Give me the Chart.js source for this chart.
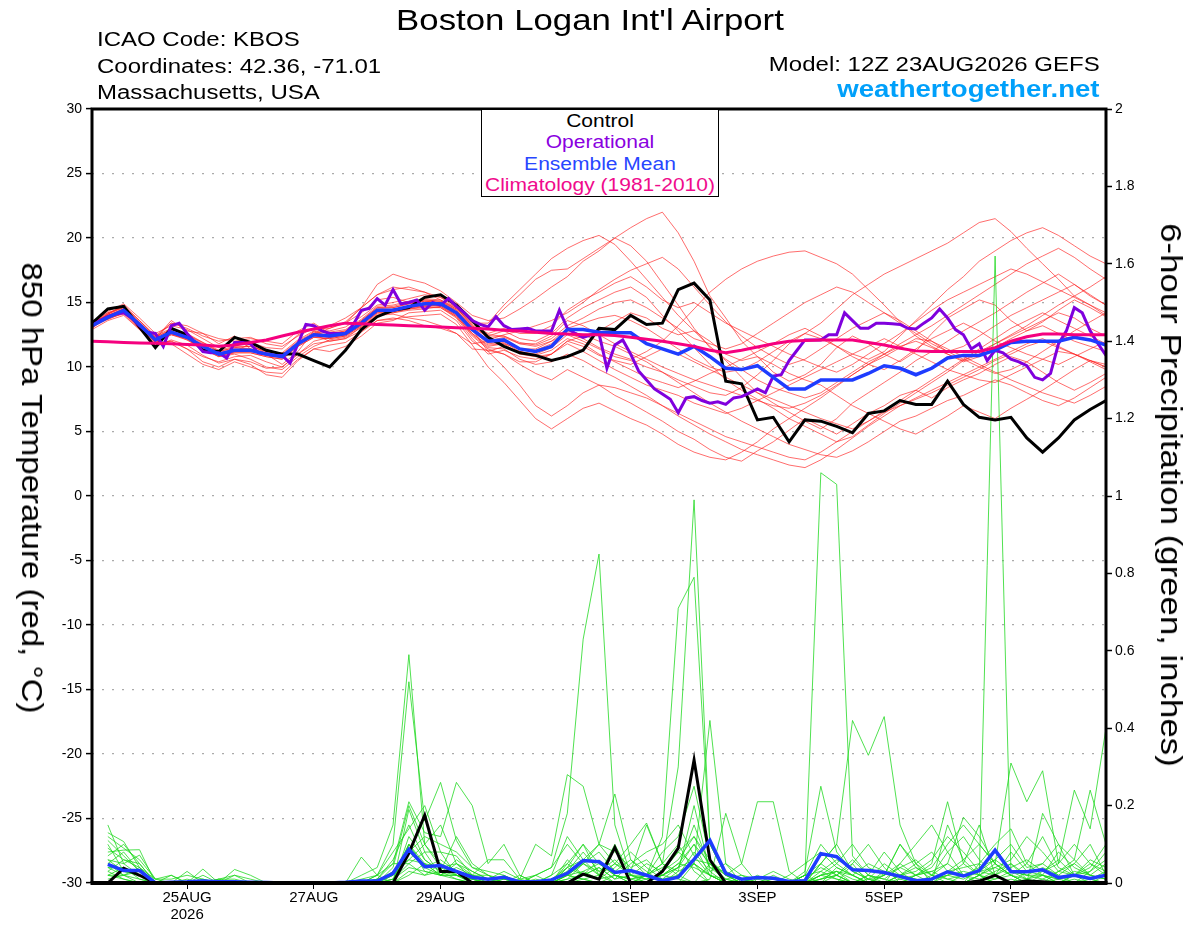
<!DOCTYPE html>
<html><head><meta charset="utf-8">
<script src="https://cdn.jsdelivr.net/npm/chart.js@4.4.1/dist/chart.umd.min.js"></script>
<style>
html,body{margin:0;padding:0;background:#fff;}
#wrap{position:relative;width:1200px;height:927px;overflow:hidden;font-family:"Liberation Sans",Arial,Helvetica,sans-serif;}
#c{position:absolute;left:0;top:0;}
.t{position:absolute;white-space:nowrap;line-height:1;color:#000;}
.l{transform-origin:0 50%;transform:scaleX(1.2);}
.r{transform-origin:100% 50%;transform:scaleX(1.2);}
.c{transform:translateX(-50%) scaleX(1.2);transform-origin:50% 50%;}
</style></head><body>
<div id="wrap">
<canvas id="c" width="1200" height="927"></canvas>
<div class="t c" style="left:590px;top:5.5px;font-size:29px;">Boston Logan Int'l Airport</div>
<div class="t l" style="left:97px;top:28.8px;font-size:20px;">ICAO Code: KBOS</div>
<div class="t l" style="left:97px;top:55.8px;font-size:20px;">Coordinates: 42.36, -71.01</div>
<div class="t l" style="left:97px;top:82.4px;font-size:20px;">Massachusetts, USA</div>
<div class="t r" style="right:100px;top:53.8px;font-size:20px;">Model: 12Z 23AUG2026 GEFS</div>
<div class="t r" style="right:100px;top:77.8px;font-size:23px;font-weight:bold;color:#00a0fa;">weathertogether.net</div>
<div style="position:absolute;left:481px;top:109px;width:236px;height:86px;border:1.5px solid #000;background:#fff;"></div>
<div class="t c" style="left:600px;top:112.5px;font-size:17.5px;color:#000;">Control</div>
<div class="t c" style="left:600px;top:133.5px;font-size:17.5px;color:#8a00e0;">Operational</div>
<div class="t c" style="left:600px;top:155.9px;font-size:17.5px;color:#2846ff;">Ensemble Mean</div>
<div class="t c" style="left:600px;top:177.2px;font-size:17.5px;color:#f00a8c;">Climatology (1981-2010)</div>
<div class="t" style="left:31.7px;top:487.5px;font-size:30px;transform:translate(-50%,-50%) rotate(90deg) scaleX(1.1);">850 hPa Temperature (red, °C)</div>
<div class="t" style="left:1171px;top:495px;font-size:30px;transform:translate(-50%,-50%) rotate(90deg) scaleX(1.16);">6-hour Precipitation (green, inches)</div>
</div>
<script>
// ---------- categories (forecast hours from 12Z 23AUG2026) ----------
const tempHours = []; for (let h = 0; h <= 384; h += 6) tempHours.push(h);
const precipHours = tempHours.slice(1);
const opHours = []; for (let h = 0; h <= 384; h += 3) opHours.push(h);
const xTickHours = [36, 84, 132, 204, 252, 300, 348];
const xTickLabels = [['25AUG', '2026'], '27AUG', '29AUG', '1SEP', '3SEP', '5SEP', '7SEP'];
const tempTicks = [-30, -25, -20, -15, -10, -5, 0, 5, 10, 15, 20, 25, 30];
const precipTicks = [0, 0.2, 0.4, 0.6, 0.8, 1, 1.2, 1.4, 1.6, 1.8, 2];

// ---------- 850 hPa temperature (6-hourly) ----------
const controlTemp = [13.4,14.5,14.7,13.1,11.5, 13.0,12.5,11.3,11.2,12.3, 11.9,11.3,11.0,11.0,10.5, 10.0,11.3,12.9,13.9,14.4, 14.6,15.4,15.6,14.8,13.6, 12.3,11.6,11.1,10.9,10.5, 10.8,11.3,13.0,12.9,14.0, 13.3,13.4,16.0,16.5,15.2, 8.9,8.7,5.9,6.1,4.2, 5.9,5.8,5.4,4.9,6.4, 6.6,7.4,7.1,7.1,8.9, 7.1,6.1,5.9,6.1,4.5, 3.4,4.5,5.9,6.7,7.4];
const meanTemp = [13.2,13.85,14.4,13.3,12.1, 12.7,12.3,11.6,11.0,11.3, 11.3,11.0,10.8,11.8,12.5, 12.4,12.6,13.4,14.4,14.4, 14.7,14.9,14.9,14.2,12.9, 12.0,12.1,11.4,11.2,11.6, 12.9,12.9,12.7,12.65,12.65, 11.8,11.4,11.0,11.6,10.8, 9.9,9.8,10.1,9.2,8.3, 8.3,9.0,9.0,9.0,9.5, 10.1,9.9,9.4,9.9,10.7, 10.9,10.9,11.3,11.9,12.0, 12.0,12.0,12.3,12.1,11.7];
const climTemp = [12.0,11.95,11.9,11.87,11.85, 11.8,11.75,11.7,11.6,11.7, 11.9,12.1,12.4,12.7,12.95, 13.2,13.4,13.35,13.3,13.25, 13.2,13.15,13.1,13.05,13.0, 12.95,12.85,12.8,12.7,12.6, 12.55,12.5,12.5,12.45,12.3, 12.15,12.0,11.8,11.6,11.3, 11.1,11.3,11.55,11.8,12.0, 12.05,12.1,12.1,12.1,11.9, 11.7,11.45,11.25,11.2,11.2, 11.2,11.2,11.5,12.0,12.35, 12.55,12.55,12.5,12.5,12.5];
// operational run (3-hourly)
const opTemp = [13.2,13.6,13.9,14.1,14.2,13.8,13.2,12.7, 12.6,11.6,13.2,13.4,12.6,11.9,11.2,11.1, 11.1,10.7,11.9,11.9,11.8,11.1,11.0,10.9, 10.9,10.3,11.8,13.3,13.2,12.8,12.6,12.6, 12.6,13.3,14.4,14.55,15.3,14.8,16.0,14.9, 15.0,15.2,14.4,15.0,14.8,15.3,14.7,14.2, 13.6,13.3,13.1,13.9,13.2,12.9,12.95,13.0, 12.8,12.8,12.8,14.4,13.0,12.6,12.3,12.5, 12.6,9.9,11.7,12.1,11.0,9.7,9.0,8.3, 7.9,7.5,6.45,7.6,7.7,7.4,7.2,7.3, 7.1,7.6,7.7,8.0,8.3,8.0,9.3,9.4, 10.5,11.3,12.1,12.1,12.1,12.5,12.5,14.2, 13.6,13.0,13.0,13.4,13.4,13.35,13.3,13.0, 12.95,13.4,13.8,14.5,13.8,12.9,12.5,11.4, 11.8,10.5,11.3,11.1,10.6,10.4,10.1,9.2, 9.0,9.5,11.8,12.8,14.6,14.2,12.8,11.8, 10.9];

// ensemble members, temperature
const t01 = [13.0,14.1,14.8,13.6,12.4, 13.0,12.5,11.9,11.3,11.6, 11.6,11.2,11.1,12.1,12.8, 12.8,13.1,13.9,14.8,15.0, 15.3,15.6,15.4,14.6,13.5, 13.2,14.5,15.6,16.8,17.5, 17.6,18.4,19.2,20.0,20.8, 21.5,22.0,20.4,18.2,15.5, 13.8,12.0,10.8,9.6,8.9, 9.4,10.2,11.5,12.4,11.8, 11.0,10.4,11.2,12.6,13.8, 14.5,15.2,14.8,13.6,12.8, 13.5,14.4,15.2,14.6,13.9];
const t02 = [13.4,13.7,14.2,13.0,11.8, 12.0,11.4,10.4,10.0,10.6, 10.4,9.9,10.0,11.0,11.8, 12.0,12.2,13.1,14.1,14.2, 14.4,14.5,14.7,13.9,12.4, 11.4,11.0,10.2,9.5,9.0, 9.8,9.2,8.6,7.8,7.2, 6.5,5.8,5.0,4.4,3.6, 3.0,2.7,3.5,4.2,5.1, 6.0,5.4,4.8,5.6,6.4, 7.0,7.8,8.2,7.6,8.4, 9.0,9.5,10.2,10.8,10.4, 9.6,8.8,8.2,8.8,9.5];
const t03 = [13.1,14.3,14.9,13.8,12.6, 13.2,12.9,12.2,11.5,11.8, 11.9,11.5,11.4,12.5,13.0, 13.0,13.5,14.6,16.4,17.2, 16.8,16.5,15.9,15.0,14.0, 13.6,13.8,14.5,15.3,16.2, 17.0,18.2,19.0,20.0,19.4, 18.2,16.5,14.8,13.0,11.5, 10.5,9.2,8.0,7.2,6.5, 5.8,5.2,6.0,7.2,8.0, 8.8,9.6,10.5,11.2,12.0, 12.8,13.5,14.2,15.0,15.8, 16.5,17.2,16.4,15.5,14.8];
const t04 = [13.6,13.9,14.3,13.1,11.9, 12.5,12.2,11.4,10.9,11.1, 11.1,10.8,10.6,11.6,12.3, 12.2,12.4,13.2,14.2,14.3, 14.5,14.7,14.6,13.8,12.2, 11.0,11.3,10.8,10.6,11.0, 12.0,12.4,12.8,13.5,14.2, 13.8,13.0,12.5,12.8,12.0, 11.0,10.5,10.8,10.2,9.5, 9.0,8.6,7.8,7.0,6.4, 5.8,5.2,4.8,5.5,6.2, 7.0,6.5,6.0,6.8,7.5, 8.2,9.0,9.8,10.5,10.2];
const t05 = [12.9,13.6,14.0,12.9,11.7, 11.8,11.0,10.2,9.8,10.4, 10.0,9.6,9.5,10.6,11.4, 11.2,11.6,12.4,13.4,13.6, 14.2,14.3,14.4,13.6,12.0, 11.2,11.6,11.2,11.0,11.5, 12.5,12.0,11.4,10.8,10.5, 10.0,9.6,9.0,8.5,8.0, 7.8,8.4,9.4,10.5,11.8, 12.6,13.4,14.5,15.6,16.4, 17.2,17.8,18.4,19.0,19.6, 20.4,21.2,21.5,20.5,19.2, 18.0,16.8,15.5,14.8,14.0];
const t06 = [13.3,14.0,14.5,13.4,12.2, 13.4,13.0,12.4,12.0,12.2, 12.3,11.8,11.6,12.4,13.0, 13.2,13.4,14.2,15.2,15.4, 15.0,15.1,15.0,14.3,13.1, 12.4,12.8,12.2,12.0,12.6, 13.8,14.6,15.2,15.8,16.2, 15.4,14.0,12.8,11.5,10.2, 9.0,8.2,7.5,6.8,6.0, 5.4,4.8,4.2,4.6,5.5, 6.4,7.2,8.0,8.8,9.6, 10.5,11.2,11.8,12.4,13.0, 13.6,14.2,13.8,13.0,12.4];
const t07 = [13.5,13.8,14.1,12.9,11.6, 12.1,11.7,10.9,10.3,10.6, 10.2,9.4,9.2,10.5,11.4, 11.7,11.9,12.7,13.6,13.7, 13.9,14.0,14.1,13.3,11.7, 10.0,8.8,7.4,6.0,5.2, 6.0,6.8,7.2,6.6,6.0, 5.5,4.8,4.0,3.4,3.0, 2.8,3.4,4.2,5.2,6.0, 6.8,7.6,8.5,9.4,10.2, 10.8,11.5,12.2,12.0,11.4, 10.8,10.2,9.6,9.0,8.5, 8.0,7.6,7.2,7.8,8.5];
const t08 = [13.0,14.2,14.7,13.5,12.3, 12.9,12.6,11.9,11.2,11.5, 11.4,11.1,10.9,11.9,12.6, 12.5,12.7,13.5,14.5,14.6, 14.9,15.1,15.0,14.4,13.2, 12.5,12.4,11.8,11.6,12.0, 12.6,12.2,11.5,11.0,10.6, 11.2,12.0,13.2,14.5,15.8, 16.8,17.6,18.2,18.6,18.9, 19.0,18.5,18.0,17.2,16.0, 14.8,13.5,12.4,11.6,11.0, 10.5,11.0,11.8,12.5,13.2, 14.0,14.8,15.5,16.2,17.0];
const t09 = [13.2,13.8,14.3,13.2,12.0, 12.6,12.2,11.5,10.9,11.2, 11.8,11.0,10.2,11.2,12.8, 12.3,12.5,13.3,14.3,14.3, 14.6,14.8,14.8,14.1,12.8, 11.8,11.9,11.2,10.9,11.3, 12.2,11.8,11.0,10.4,9.8, 9.2,8.8,8.4,8.9,9.5, 10.0,10.6,11.2,11.8,12.5, 13.0,12.4,11.6,10.8,10.2, 9.8,10.5,11.4,12.2,12.8, 13.4,12.8,12.0,11.5,11.0, 10.6,10.2,10.8,11.4,12.0];
const t10 = [13.4,14.1,14.6,13.4,12.2, 13.6,12.8,12.6,11.8,12.4, 11.4,11.0,10.9,11.9,12.6, 13.2,13.8,14.6,15.6,16.0, 16.2,15.8,15.4,14.8,13.6, 12.1,12.5,12.8,13.2,13.6, 14.2,15.0,16.0,16.8,17.5, 18.0,18.5,17.6,16.2,14.8, 13.5,12.4,11.5,10.8,10.2, 10.6,11.4,12.2,13.0,13.6, 14.2,13.6,12.8,12.0,11.2, 10.6,10.0,9.5,9.8,10.4, 11.2,12.0,12.8,13.5,14.2];
const t11 = [13.1,13.7,14.2,13.1,11.9, 12.5,12.1,11.4,10.8,11.1, 11.1,10.8,10.6,11.6,12.3, 12.2,12.4,13.2,14.2,14.2, 14.5,14.6,14.6,13.9,12.5, 11.5,11.4,10.6,10.2,10.4, 11.0,10.5,9.8,9.2,8.5, 7.8,7.0,6.2,5.5,4.8, 4.2,3.6,3.2,2.8,2.4, 2.2,2.8,3.6,4.5,5.4, 6.2,7.0,7.6,8.2,8.8, 9.4,10.0,10.6,11.2,11.8, 12.2,11.6,11.0,10.4,9.8];
const t12 = [13.3,14.0,14.4,13.3,12.1, 12.7,12.3,11.6,11.0,11.3, 11.3,11.0,10.8,11.8,12.5, 12.0,12.2,12.8,13.6,13.8, 13.6,13.2,13.0,12.6,11.8, 12.0,12.3,11.8,11.8,12.4, 13.6,13.2,12.5,11.8,11.2, 10.6,10.0,9.5,9.0,8.6, 8.2,7.8,7.4,7.0,6.8, 7.2,7.8,8.6,9.4,10.2, 11.0,11.8,12.5,13.2,14.0, 14.8,15.6,16.4,17.2,18.0, 18.6,19.2,18.5,17.6,16.8];
const t13 = [13.0,13.9,14.5,13.4,12.2, 12.8,12.4,11.7,11.1,11.4, 11.4,11.1,10.9,11.9,12.6, 12.5,12.8,13.6,14.6,14.6, 14.9,15.2,15.1,14.5,13.4, 13.4,14.8,16.0,17.2,18.4, 19.2,19.8,20.2,19.5,18.2, 16.8,15.4,14.0,12.8,11.6, 10.6,9.8,9.0,8.4,8.0, 7.6,8.0,8.8,9.6,10.4, 11.0,11.6,12.0,11.5,11.0, 10.4,10.8,11.5,12.2,12.8, 13.2,12.6,12.0,11.6,11.2];
const t14 = [13.5,14.2,14.6,13.4,12.0, 12.6,12.1,11.4,10.8,11.0, 10.6,10.0,9.8,10.8,11.6, 12.1,12.3,13.1,14.0,14.1, 13.8,13.6,13.2,12.6,11.4, 11.3,11.0,10.4,10.4,11.0, 12.0,11.6,10.9,10.5,10.2, 10.8,11.4,11.0,10.4,9.8, 9.2,8.6,8.0,7.5,7.0, 6.5,6.0,5.6,5.2,5.8, 6.5,7.0,7.5,8.0,8.6, 9.2,9.8,10.5,11.0,11.6, 12.0,11.5,11.0,10.5,10.0];
const t15 = [13.2,14.0,14.5,13.3,12.1, 12.7,12.2,11.5,10.9,11.2, 11.2,10.9,10.7,11.7,12.4, 12.3,12.5,13.3,14.3,14.4, 14.6,14.8,14.7,14.0,12.6, 11.6,11.8,11.4,11.4,12.0, 13.0,13.4,13.8,14.0,13.6, 13.0,12.2,11.4,10.6,10.0, 9.6,9.8,10.4,11.2,12.0, 12.6,12.2,11.6,11.0,10.6, 11.2,12.4,13.6,14.8,16.0, 17.0,18.2,19.0,19.8,20.4, 20.8,20.2,19.4,18.6,18.0];
const t16 = [13.4,13.9,14.4,13.2,12.0, 12.6,12.3,11.6,11.0,11.2, 11.3,10.9,10.8,11.8,12.5, 13.0,13.4,14.6,15.6,16.2, 16.0,15.8,15.2,14.6,13.2, 11.9,12.0,11.4,11.3,11.8, 12.8,12.5,12.0,11.6,11.0, 10.4,9.6,8.8,8.0,7.2, 6.5,5.8,5.2,4.6,4.0, 3.6,3.2,3.0,3.5,4.2, 5.0,5.8,6.2,6.8,7.4, 7.8,8.4,9.0,8.6,8.0, 7.4,7.0,7.6,8.4,9.2];
const t17 = [13.1,13.8,14.4,13.4,12.3, 12.9,12.5,11.8,11.2,11.5, 11.6,11.2,11.0,12.0,12.7, 12.7,12.9,13.7,14.7,14.8, 15.1,15.3,15.2,14.5,13.3, 12.6,13.0,12.6,12.6,13.2, 14.4,15.2,15.8,16.5,17.0, 16.2,15.2,14.6,15.0,14.2, 13.4,12.8,12.2,11.6,11.0, 10.5,10.0,9.6,10.2,11.0, 11.8,12.6,13.5,14.4,15.2, 15.8,16.4,17.0,17.6,17.2, 16.6,16.0,15.4,14.8,14.2];
const t18 = [13.3,13.9,14.3,13.1,11.9, 12.0,11.4,10.8,10.4,10.8, 10.9,10.4,10.0,11.0,12.0, 12.3,12.5,13.3,14.3,14.4, 14.6,14.7,14.8,14.0,12.6, 11.7,11.8,11.0,10.8,11.0, 11.8,11.2,10.5,9.8,9.2, 8.6,8.2,7.8,7.2,6.8, 6.4,6.8,7.4,8.0,8.6, 9.2,9.8,10.4,11.0,11.6, 12.2,11.6,11.0,10.4,9.8, 9.4,9.0,8.8,9.4,10.0, 10.6,11.2,11.0,10.5,10.0];
const t19 = [13.2,14.1,14.7,13.6,12.4, 13.4,13.2,12.6,12.2,12.0, 12.2,12.0,11.8,12.8,13.4, 12.6,12.8,13.6,14.6,14.7, 15.0,15.2,15.1,14.4,13.1, 12.3,12.4,11.9,11.7,12.2, 13.2,13.8,14.5,15.0,15.2, 14.6,13.8,13.0,12.2,11.8, 11.4,11.8,12.6,13.4,14.2, 15.0,15.6,16.2,15.8,15.0, 14.2,13.4,12.6,11.8,11.2, 11.6,12.4,13.2,14.0,14.6, 15.2,15.8,16.4,15.6,14.8];
const t20 = [13.4,14.0,14.4,13.2,12.0, 12.6,12.3,11.6,11.0,11.3, 11.3,11.0,10.8,11.8,12.5, 12.4,12.6,13.4,14.4,14.4, 14.7,14.9,14.9,14.2,12.9, 11.2,10.0,8.6,7.0,6.2, 7.0,8.0,8.6,8.4,8.0, 7.6,7.0,6.4,5.8,5.2, 4.6,4.2,3.8,3.4,3.0, 2.8,3.4,4.2,5.0,5.8, 6.6,7.4,8.2,9.0,9.8, 10.6,11.4,12.2,13.0,13.6, 14.2,13.6,13.0,12.4,11.8];
const tempMembers = [t01,t02,t03,t04,t05,t06,t07,t08,t09,t10,t11,t12,t13,t14,t15,t16,t17,t18,t19,t20];

// ---------- 6-hour precipitation (inches), from hour 6 ----------
const controlPrecip = [0,.038,.02,0, 0,0,0,0,0, 0,0,0,0,0, 0,0,0,0,0, .077,.175,.03,.03,0, 0,0,0,0,0, 0,.023,.01,.092,0, 0,.03,.09,.318,.06, 0,0,0,0,0, 0,0,0,0,0, 0,0,0,0,0, 0,.005,.02,0,.005, .003,0,0,0,0];
const meanPrecip = [.048,.032,.032,0, .002,.003,.005,.003,.003, .002,.001,0,0,0, 0,.002,.005,.005,.025, .087,.042,.045,.03,.015, .01,.015,.003,.003,.008, .025,.058,.055,.027,.032, .02,.006,.015,.061,.11, .025,.01,.014,.012,.004, .006,.076,.068,.034,.032, .027,.017,.006,.01,.029, .018,.032,.085,.029,.029, .034,.014,.02,.012,.02];
const p01 = [.15,.05,.02,0, 0,0,.01,0,0, 0,0,0,0,0, 0,0,.02,.04,.15, .59,.1,.05,.02,0, 0,0,0,.02,.04, .1,.05,.02,0,0, 0,.02,.05,.1,.02, 0,0,0,0,0, 0,.02,.03,.01,0, 0,0,.02,.05,.21, .05,.02,0,.01,0, 0,.03,.05,.02,.01];
const p02 = [.13,.107,.04,.01, .02,0,0,.01,.02, .01,0,0,0,0, 0,0,0,.02,.1, .52,.16,.26,.11,.04, .02,.01,0,0,0, .02,.05,.1,.23,.06, .03,0,0,.05,.42, .05,0,0,.02,0, 0,0,.04,.02,0, .02,.1,.05,0,0, 0,.05,.1,.14,.05, .02,0,0,.03,.08];
const p03 = [.08,.085,.086,0, 0,0,.036,0,0, 0,0,0,0,0, 0,0,.01,.02,.05, .21,.13,.12,.26,.2, .05,.1,.02,0,0, .02,.01,0,.02,0, .02,.12,.71,.79,.1, .02,0,0,0,0, 0,.05,.1,.03,.01, 0,.05,.1,.15,.08, .12,.06,.02,0,.03, .05,.02,0,.01,0];
const p04 = [.06,.05,.072,.01, .01,.02,.01,0,.035, .02,0,0,0,0, 0,0,.067,.02,0, .19,.08,.08,.07,.02, .06,.06,.01,.1,.07, .28,.25,.1,.05,.03, .15,.05,.02,0,.01, .18,.05,0,0,0, .02,0,0,.05,.1, .04,0,0,.02,.05, .17,.12,.05,.02,0, .18,.1,.06,.24,.1];
const p05 = [.04,.02,.01,0, 0,0,0,0,0, 0,0,0,0,0, 0,0,0,0,.02, .1,.05,.02,.01,0, 0,0,.01,.02,.04, .18,.63,.85,.15,.02, 0,0,.03,.05,0, 0,.01,0,0,0, .02,.1,.05,.02,0, 0,0,0,0,.02, .05,.15,.02,.05,.01, 0,0,.02,.05,.03];
const p06 = [.02,.01,0,0, 0,0,0,0,0, 0,0,0,0,0, 0,0,0,.01,.05, .05,.08,.02,.02,.01, 0,0,0,0,.02, .05,.1,.02,.05,.1, .155,.05,.3,.99,.1, .02,0,0,0,0, 0,.02,.01,0,0, .03,.02,.01,0,0, 0,.02,.05,.02,0, 0,.01,.02,.01,0];
const p07 = [.1,.03,.02,0, .02,0,0,0,0, 0,0,0,0,0, 0,0,0,0,0, .1,.03,.02,.05,.01, 0,0,0,0,0, 0,.03,.05,.02,0, .01,.02,.04,.06,.05, .02,.05,.21,.21,.03, 0,.02,.03,0,0, 0,.02,.01,0,0, 0,0,.01,.02,0, .02,0,0,0,0];
const p08 = [.03,.01,0,0, 0,.01,0,0,0, 0,0,0,0,0, 0,0,0,0,.01, .05,.02,.05,.03,.02, 0,0,.02,0,0, .02,.01,0,0,0, 0,0,.02,.05,.02, 0,0,0,0,0, .02,1.06,1.03,.07,.02, 0,0,0,0,0, 0,.02,0,0,.01, 0,0,.01,0,0];
const p09 = [.05,.02,0,0, 0,0,0,0,0, 0,0,0,0,0, 0,0,0,.01,.02, .08,.04,.06,.03,.02, .02,0,0,0,0, .05,.02,.01,.02,.01, 0,.03,.08,.05,.02, .01,0,0,0,0, .02,.05,.1,.42,.33, .43,.15,.05,.02,0, .02,0,0,0,0, .01,0,.02,0,0];
const p10 = [.02,.04,.01,0, 0,0,0,0,0, 0,0,0,0,0, 0,0,0,0,.03, .06,.05,.02,.02,0, 0,.02,0,0,0, .02,.05,.03,0,0, .02,.05,.1,.03,0, 0,0,0,0,0, 0,0,.02,.05,0, 0,.02,.05,.08,.03, .06,.02,1.62,.03,.02, .02,.01,0,0,.02];
const p11 = [.01,.02,.03,0, 0,0,0,0,0, 0,0,0,0,0, 0,0,0,0,0, .12,.06,.03,.01,0, 0,0,0,0,0, 0,.01,.02,.05,.02, .02,.01,.04,.1,.05, .01,0,0,0,0, 0,.01,.02,0,0, 0,.01,.02,.04,.1, .15,.1,.05,.31,.21, .29,.05,.24,.14,.4];
const p12 = [.09,.06,.04,0, 0,.03,0,0,.02, 0,0,0,0,0, 0,0,0,.02,.08, .14,.2,.08,.02,.01, 0,.01,0,.01,0, .04,.06,.1,.08,.04, .06,.02,.01,0,.05, 0,0,.02,0,0, 0,.05,.02,0,.02, .08,.03,0,0,.15, .06,.1,.05,.02,.01, .03,.05,.1,.05,.02];
const p13 = [.12,.09,.06,.01, 0,0,0,.01,0, 0,0,0,0,0, 0,0,0,0,.04, .2,.1,.15,.05,.03, .01,0,0,0,.02, .12,.06,.02,.1,.02, .05,.03,.06,.12,.04, .03,.01,0,0,.02, .05,.08,.04,.02,0, .02,.1,.04,.02,.08, .02,.03,.04,.06,.12, .08,.03,.02,.06,.04];
const p14 = [.07,.1,.05,0, 0,0,.02,0,0, 0,0,0,0,0, 0,0,0,0,.03, .08,.12,.1,.08,.04, .03,.02,0,0,.01, .04,.1,.05,.02,.01, .02,.05,.03,.2,.03, .05,.02,0,0,0, 0,.02,.05,.1,.04, .02,.05,.02,0,.03, .04,.05,.02,.08,.03, .02,.08,.04,.02,.05];
const p15 = [.11,.07,.03,0, 0,0,0,0,0, 0,0,0,0,0, 0,0,0,.01,.06, .15,.06,.03,.12,.05, .02,0,0,.02,0, .06,.02,.04,.01,.05, .08,.1,.15,.07,.02, 0,0,0,0,0, .01,.04,.02,0,.01, .05,.02,.03,.06,.12, .08,.03,.06,.1,.04, .05,.1,.02,.03,.06];
const p16 = [.05,.08,.03,0, 0,0,0,.01,.01, 0,0,0,0,0, 0,0,0,0,.01, .04,.03,.02,.06,.03, .01,.03,.01,0,0, .01,.05,.08,.03,.06, .02,.04,.08,.12,.06, .02,0,0,.01,0, 0,.01,.03,.02,.05, .03,.01,0,.01,.02, .03,.02,.04,.02,.05, .12,.04,.02,.01,.03];
const p17 = [.03,.06,.05,0, 0,0,0,0,0, 0,0,0,0,0, 0,0,0,0,.02, .06,.1,.04,.05,.02, 0,.01,0,0,.01, .03,.08,.03,.06,.02, .01,.02,.04,.15,.04, .01,.02,.01,0,0, .02,.03,.01,0,.02, .01,.04,.02,.03,.05, .02,.04,.06,.03,.02, .04,.02,.05,.1,.02];
const p18 = [.04,.04,.02,0, 0,0,0,0,0, 0,0,0,0,0, 0,0,0,0,0, .03,.02,.03,.02,.01, 0,0,0,0,0, .02,.03,.01,.04,.08, .04,.01,.02,.08,.03, 0,0,.01,.03,.01, 0,.03,.06,.04,.01, 0,.02,.04,.01,.02, .01,.03,.02,.04,.06, .03,.06,.02,.04,.1];
const p19 = [.06,.03,.02,0, 0,0,0,0,0, 0,0,0,0,0, 0,0,0,0,.01, .1,.04,.02,.04,.02, .01,0,0,0,0, .04,.02,.06,.02,.01, .02,.08,.12,.25,.06, .02,.01,0,0,0, .03,.25,.08,.03,.01, .02,.04,.06,.02,.01, .02,.01,.03,.05,.02, .01,.03,.06,.02,.01];
const p20 = [.02,.02,.04,0, 0,0,0,0,0, 0,0,0,0,0, 0,0,0,0,0, .02,.05,.04,.02,.01, 0,0,0,0,0, .01,.02,.04,.01,.02, .01,.02,.05,.04,.02, 0,0,0,0,0, 0,.01,.02,.06,.02, .01,0,.02,.03,.01, 0,.02,.01,.03,.01, .02,.01,.03,.02,.01];
const precipMembers = [p01,p02,p03,p04,p05,p06,p07,p08,p09,p10,p11,p12,p13,p14,p15,p16,p17,p18,p19,p20];

// ---------- build chart ----------
const FONT = '"Liberation Sans", Arial, Helvetica, sans-serif';
Chart.defaults.font.family = FONT;
Chart.defaults.color = '#000';

const pair = (hrs, vals) => vals.map((v, i) => ({x: hrs[i], y: v}));
const datasets = [];
tempMembers.forEach(m => datasets.push({data: pair(tempHours, m), yAxisID: 'yT', borderColor: 'rgba(255,30,30,0.72)', borderWidth: 0.9, order: 30}));
precipMembers.forEach(m => datasets.push({data: pair(precipHours, m), yAxisID: 'yP', borderColor: 'rgba(25,215,25,0.85)', borderWidth: 0.9, order: 20}));
datasets.push({data: pair(precipHours, controlPrecip), yAxisID: 'yP', borderColor: '#000', borderWidth: 3, order: 6});
datasets.push({data: pair(precipHours, meanPrecip), yAxisID: 'yP', borderColor: '#1e3cff', borderWidth: 3.5, order: 5});
datasets.push({data: pair(tempHours, controlTemp), yAxisID: 'yT', borderColor: '#000', borderWidth: 3, order: 4});
datasets.push({data: pair(opHours, opTemp), yAxisID: 'yT', borderColor: '#8000dd', borderWidth: 3, order: 3});
datasets.push({data: pair(tempHours, meanTemp), yAxisID: 'yT', borderColor: '#1e3cff', borderWidth: 3.5, order: 2});
datasets.push({data: pair(tempHours, climTemp), yAxisID: 'yT', borderColor: '#f5007f', borderWidth: 3, order: 1});

const framePlugin = {
  id: 'frame',
  afterDatasetsDraw(chart) {
    const {ctx, chartArea: a} = chart;
    ctx.save();
    ctx.strokeStyle = '#000';
    ctx.lineWidth = 3;
    ctx.lineCap = 'butt';
    ctx.beginPath();
    ctx.moveTo(a.left, a.bottom); ctx.lineTo(a.left, a.top - 1.5);
    ctx.moveTo(a.left - 1.5, a.top); ctx.lineTo(a.right + 1.5, a.top);
    ctx.moveTo(a.right, a.top - 1.5); ctx.lineTo(a.right, a.bottom);
    ctx.stroke();
    ctx.lineWidth = 4;
    ctx.beginPath(); ctx.moveTo(a.left - 1.5, a.bottom); ctx.lineTo(a.right + 1.5, a.bottom); ctx.stroke();
    ctx.restore();
  }
};

new Chart(document.getElementById('c'), {
  type: 'line',
  data: {datasets},
  plugins: [framePlugin],
  options: {
    responsive: false,
    animation: false,
    devicePixelRatio: 1,
    layout: {padding: {top: 109, left: 0, right: 0, bottom: 0}},
    plugins: {legend: {display: false}, tooltip: {enabled: false}, title: {display: false}},
    elements: {line: {tension: 0, fill: false}, point: {radius: 0, hoverRadius: 0}},
    scales: {
      x: {
        type: 'linear', position: 'bottom', min: 0, max: 384,
        afterBuildTicks: s => { s.ticks = xTickHours.map(v => ({value: v})); },
        ticks: {
          autoSkip: false, maxRotation: 0, padding: 1,
          font: {size: 15, lineHeight: 1.1}, color: '#000',
          callback: v => { const i = xTickHours.indexOf(v); return i >= 0 ? xTickLabels[i] : ''; }
        },
        grid: {drawOnChartArea: false, drawTicks: true, tickLength: 6, tickColor: '#000', tickWidth: 1},
        border: {display: false},
        afterFit: s => { s.height = 44; }
      },
      yT: {
        type: 'linear', position: 'left', min: -30, max: 30,
        afterBuildTicks: s => { s.ticks = tempTicks.map(v => ({value: v})); },
        ticks: {font: {size: 14}, color: '#000', padding: 4, callback: v => String(v)},
        grid: {
          drawOnChartArea: true, drawTicks: true, tickLength: 6, tickColor: '#000', tickWidth: 1.5, tickBorderDash: [],
          lineWidth: 1.2,
          color: c => (c.tick && (c.tick.value === -30 || c.tick.value === 30)) ? 'rgba(0,0,0,0)' : '#aaaaaa'
        },
        border: {display: false, dash: [2, 8]},
        afterFit: s => { s.width = 92; }
      },
      yP: {
        type: 'linear', position: 'right', min: 0, max: 2,
        afterBuildTicks: s => { s.ticks = precipTicks.map(v => ({value: v})); },
        ticks: {font: {size: 14}, color: '#000', padding: 3, callback: v => String(Math.round(v * 10) / 10)},
        grid: {drawOnChartArea: false, drawTicks: true, tickLength: 6, tickColor: '#000', tickWidth: 1.5},
        border: {display: false},
        afterFit: s => { s.width = 94; }
      }
    }
  }
});
</script>
</body></html>
